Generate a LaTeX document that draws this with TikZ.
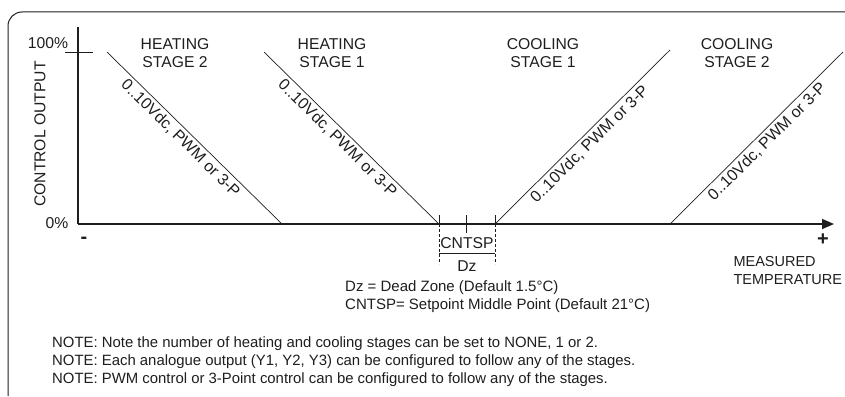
\documentclass[tikz,border=0pt]{standalone}
\usepackage{fontspec}
\setmainfont{Liberation Sans}
\usetikzlibrary{arrows.meta, calc}
\definecolor{inkgray}{RGB}{30,30,30}
\tikzset{
    axisline/.style={draw=inkgray, line width=1.3pt},
    rampline/.style={draw=inkgray, line width=0.7pt},
    ticksmall/.style={draw=inkgray, line width=0.7pt},
    dzdash/.style={draw=inkgray, line width=0.7pt, dash pattern=on 3pt off 2pt},
    stagelabel/.style={font=\fontsize{15.7}{18}\selectfont, align=center, text=inkgray},
    ramplabel/.style={font=\fontsize{16}{18}\selectfont, sloped, below, inner sep=3pt, text=inkgray},
    axislabel/.style={font=\fontsize{15.7}{18}\selectfont, text=inkgray},
    deftext/.style={font=\fontsize{15}{18}\selectfont, anchor=west, text=inkgray, inner sep=0pt},
    notetext/.style={font=\fontsize{14.9}{18}\selectfont, anchor=west, text=inkgray, inner sep=0pt}
}

\begin{document}
\begin{tikzpicture}[x=1pt, y=-1pt]
    \useasboundingbox (0,0) rectangle (845,396);
    % frame
    \draw[draw=inkgray, line width=1pt, rounded corners=14pt] (8,396) -- (8,12) -- (845,12);

    % axes
    \coordinate (origin) at (78,224);
    \coordinate (ytop) at (78,27);
    \coordinate (xend) at (834,224);
    \draw[axisline] (ytop) -- (origin);
    \draw[axisline, -{Triangle[length=12pt, width=10pt]}] (origin) -- (xend);
    \draw[ticksmall] (65,52) -- (93,52);

    \node[axislabel] (full) at (48,43) {100\%};
    \node[axislabel] (zero) at (57,223) {0\%};
    \node[axislabel, rotate=90] (yname) at (40,134) {CONTROL OUTPUT};
    \node[font=\fontsize{20}{20}\selectfont\bfseries, text=inkgray] (minus) at (84,240) {-};
    \node[font=\fontsize{20}{20}\selectfont\bfseries, text=inkgray] (plus) at (823,240) {+};
    \node[axislabel, font=\fontsize{14.5}{18}\selectfont, align=left, anchor=west] (xname) at (730,271) {MEASURED\\TEMPERATURE};

    % ramps
    \coordinate (h2top) at (107,52);
    \coordinate (h2bot) at (282,224);
    \coordinate (h1top) at (264,52);
    \coordinate (h1bot) at (439,224);
    \coordinate (c1bot) at (495,224);
    \coordinate (c1top) at (670,50);
    \coordinate (c2bot) at (670,224);
    \coordinate (c2top) at (843,52);
    \draw[rampline] (h2top) -- node[ramplabel, pos=0.46] {0..10Vdc, PWM or 3-P} (h2bot);
    \draw[rampline] (h1top) -- node[ramplabel, pos=0.46] {0..10Vdc, PWM or 3-P} (h1bot);
    \draw[rampline] (c1bot) -- node[ramplabel, pos=0.5] {0..10Vdc, PWM or 3-P} (c1top);
    \draw[rampline] (c2bot) -- node[ramplabel, pos=0.52] {0..10Vdc, PWM or 3-P} (c2top);

    \node[stagelabel] (heat2) at (175,53) {HEATING\\STAGE 2};
    \node[stagelabel] (heat1) at (332,53) {HEATING\\STAGE 1};
    \node[stagelabel] (cool1) at (543,53) {COOLING\\STAGE 1};
    \node[stagelabel] (cool2) at (737,53) {COOLING\\STAGE 2};

    % dead zone
    \coordinate (mid) at (466,224);
    \draw[ticksmall] ($(h1bot)+(0,-9)$) -- (h1bot);
    \draw[ticksmall] ($(c1bot)+(0,-9)$) -- (c1bot);
    \draw[ticksmall] ($(mid)+(0,-9)$) -- ($(mid)+(0,9)$);
    \draw[dzdash] (h1bot) -- ++(0,40);
    \draw[dzdash] (c1bot) -- ++(0,40);
    \draw[ticksmall] ($(h1bot)+(0,29)$) -- ($(c1bot)+(0,29)$);
    \node[axislabel, inner sep=0pt] (cntsp) at (467,243) {CNTSP};
    \node[axislabel, inner sep=0pt] (dz) at (467,266) {Dz};

    \node[deftext] (dzdef) at (345,288) {Dz = Dead Zone (Default 1.5°C)};
    \node[deftext] (spdef) at (345,306) {CNTSP= Setpoint Middle Point (Default 21°C)};

    % notes
    \node[notetext] (note1) at (52,344) {NOTE: Note the number of heating and cooling stages can be set to NONE, 1 or 2.};
    \node[notetext] (note2) at (52,362) {NOTE: Each analogue output (Y1, Y2, Y3) can be configured to follow any of the stages.};
    \node[notetext] (note3) at (52,380) {NOTE: PWM control or 3-Point control can be configured to follow any of the stages.};
\end{tikzpicture}
\end{document}
